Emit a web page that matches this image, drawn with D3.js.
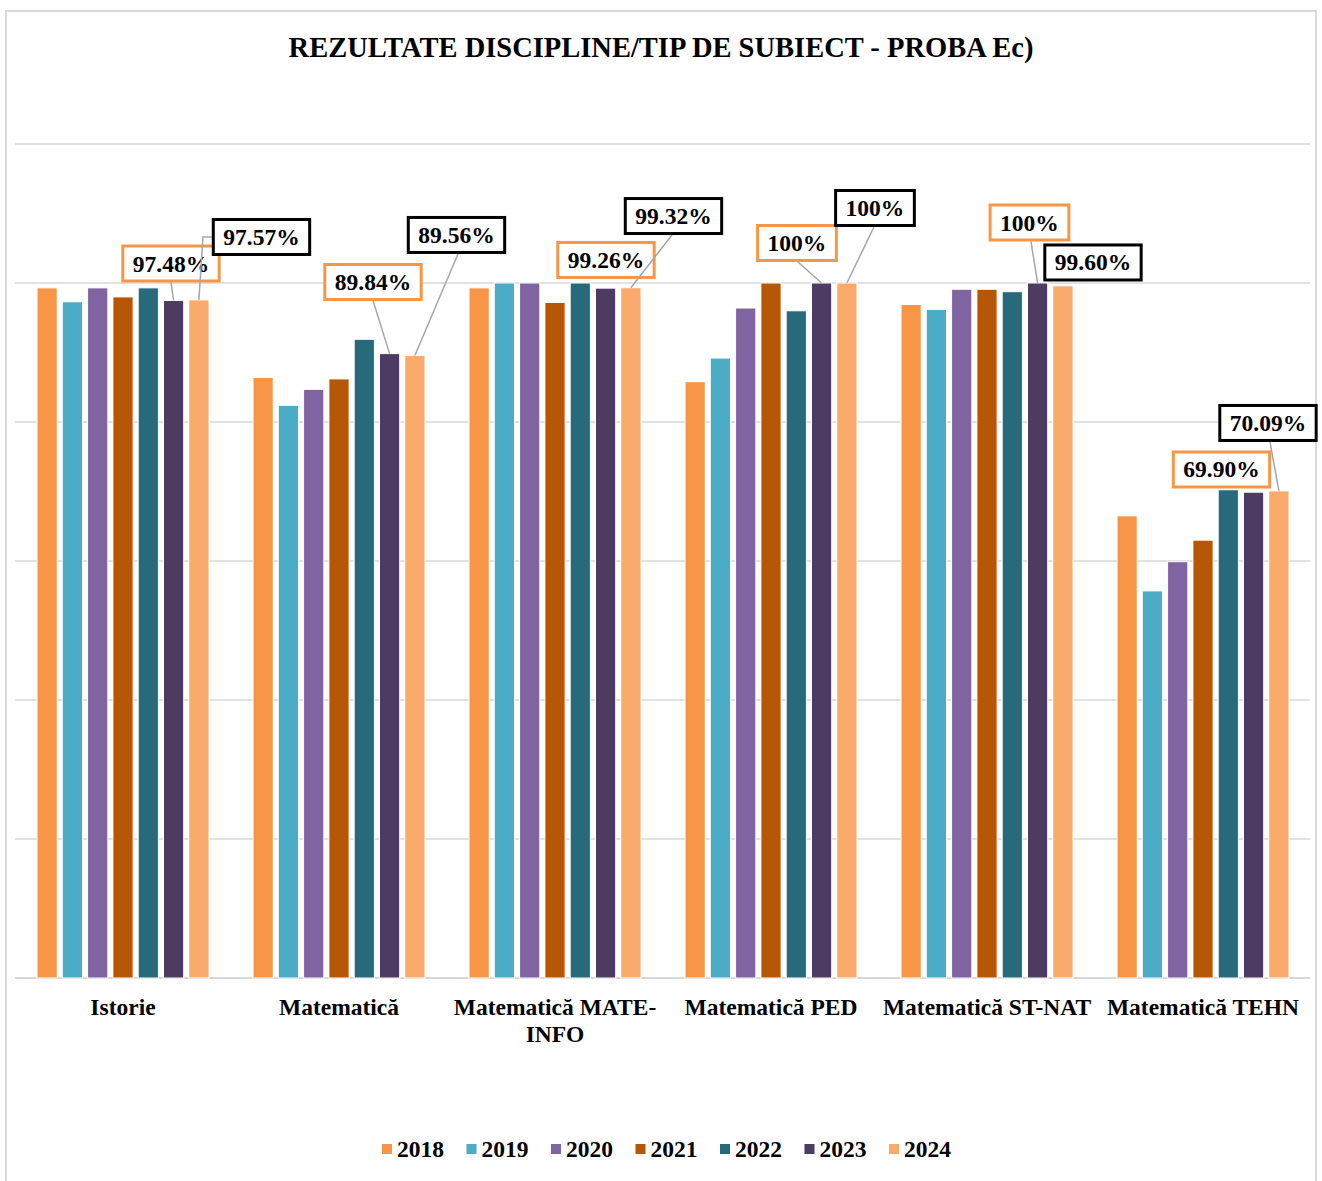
<html>
<head>
<meta charset="utf-8">
<style>
body {
  margin: 0;
  background: white;
}
svg {
  display: block;
}
text {
  font-family: "Liberation Serif", "Times New Roman", serif;
  font-weight: bold;
  fill: black;
}
</style>
</head>
<body>
<script src="https://cdnjs.cloudflare.com/ajax/libs/d3/7.8.5/d3.min.js"></script>
<script>
var categories = ["Istorie", "Matematică", "Matematică MATE-INFO", "Matematică PED", "Matematică ST-NAT", "Matematică TEHN"]
var years = ["2018", "2019", "2020", "2021", "2022", "2023", "2024"]

var v2018 = [99.3, 86.4, 99.3, 85.8, 96.9, 66.5]
var v2019 = [97.3, 82.4, 100, 89.2, 96.2, 55.7]
var v2020 = [99.3, 84.7, 100, 96.4, 99.1, 59.9]
var v2021 = [98.0, 86.2, 97.2, 100, 99.1, 63.0]
var v2022 = [99.3, 91.9, 100, 96.0, 98.75, 70.25]
var v2023 = [97.48, 89.84, 99.26, 100, 100, 69.90]
var v2024 = [97.57, 89.56, 99.32, 100, 99.60, 70.09]

var yTicks = [0, 20, 40, 60, 80, 100, 120]

var series = [v2018, v2019, v2020, v2021, v2022, v2023, v2024]
var colors = ["#F79646", "#4BACC6", "#8064A2", "#B65708", "#276A7C", "#4D3B62", "#F9AB6B"]

// label boxes for 2023 (orange) and 2024 (black): offset of box centre from bar top,
// and leader start (relative to box centre) + optional elbow
var labelLayout = {
  "2023": [
    { dx: -2.6, dy: -37, lead: [[0, 18.5]] },
    { dx: -16.6, dy: -71.6, lead: [[0, 18.5]] },
    { dx: 0.4, dy: -28.2, lead: null },
    { dx: -24.6, dy: -40, lead: [[1, 19]] },
    { dx: -8.1, dy: -60.5, lead: [[1.5, 19]] },
    { dx: -32.1, dy: -22.7, lead: null }
  ],
  "2024": [
    { dx: 62.6, dy: -62.9, lead: [[-48.5, 0], [-58.5, 0]] },
    { dx: 41.6, dy: -120.6, lead: [[1.5, 19]] },
    { dx: 42.6, dy: -71.7, lead: [[-1.5, 19]] },
    { dx: 28.1, dy: -75, lead: [[-1, 19]] },
    { dx: 30.1, dy: -23.3, lead: null },
    { dx: -10.9, dy: -67.9, lead: [[2, 19]] }
  ]
}
var labelBorder = { "2023": "#F79646", "2024": "#000000" }

var width = 1322,
    height = 1181;

var svg = d3.select("body")
  .append("svg")
  .attr("width", width)
  .attr("height", height)

svg.append("rect")
  .attr("x", 6)
  .attr("y", 11)
  .attr("width", 1310)
  .attr("height", 1190)
  .attr("fill", "white")
  .attr("stroke", "#D9D9D9")
  .attr("stroke-width", 2)

svg.append("text")
  .attr("x", 661)
  .attr("y", 57)
  .attr("text-anchor", "middle")
  .style("font-size", "28.5px")
  .text("REZULTATE DISCIPLINE/TIP DE SUBIECT - PROBA Ec)")

var x0 = d3.scaleBand().domain(categories).range([15, 1311])
var x1 = d3.scaleBand().domain(years).range([22, 194]).paddingInner(0.2).paddingOuter(0)
var y = d3.scaleLinear().domain([0, 120]).range([978, 144])

svg.append("g")
  .selectAll("line")
  .data(yTicks)
  .enter().append("line")
  .attr("x1", 15)
  .attr("x2", 1310)
  .attr("y1", function(d) { return y(d) })
  .attr("y2", function(d) { return y(d) })
  .attr("stroke", "#D9D9D9")
  .attr("stroke-width", function(d) { return d === 0 ? 2 : 1.5 })

function barX(ci, yi) {
  return x0(categories[ci]) + x1(years[yi])
}
function barCx(ci, yi) {
  return barX(ci, yi) + x1.bandwidth() / 2
}

var bars = []
series.forEach(function(s, yi) {
  s.forEach(function(v, ci) {
    bars.push({ ci: ci, yi: yi, v: v })
  })
})

svg.append("g")
  .selectAll("rect")
  .data(bars)
  .enter().append("rect")
  .attr("x", function(d) { return barX(d.ci, d.yi) })
  .attr("y", function(d) { return y(d.v) })
  .attr("width", x1.bandwidth())
  .attr("height", function(d) { return y(0) - y(d.v) })
  .attr("fill", function(d) { return colors[d.yi] })
  .attr("stroke", "white")
  .attr("stroke-width", 1)

// category labels, wrapping after spaces and hyphens
var catLabels = svg.append("g")
categories.forEach(function(name) {
  var t = catLabels.append("text")
    .attr("x", x0(name) + x0.bandwidth() / 2)
    .attr("y", 1015)
    .attr("text-anchor", "middle")
    .style("font-size", "23.5px")
  var tokens = name.match(/[^\s-]+-?\s*/g)
  var line = ""
  var tspan = t.append("tspan").attr("x", x0(name) + x0.bandwidth() / 2)
  tokens.forEach(function(tok) {
    var test = line + tok
    tspan.text(test.trim())
    if (tspan.node().getComputedTextLength() > 218 && line !== "") {
      tspan.text(line.trim())
      line = tok
      tspan = t.append("tspan")
        .attr("x", x0(name) + x0.bandwidth() / 2)
        .attr("dy", 27)
        .text(tok.trim())
    } else {
      line = test
    }
  })
})

// data labels
var labels = svg.append("g")
;["2023", "2024"].forEach(function(yr) {
  var yi = years.indexOf(yr)
  series[yi].forEach(function(v, ci) {
    var lay = labelLayout[yr][ci]
    var bx = barCx(ci, yi), by = y(v)
    var cx = bx + lay.dx, cy = by + lay.dy
    var txt = v === 100 ? "100%" : v.toFixed(2) + "%"

    if (lay.lead) {
      var pts = lay.lead.map(function(p) { return [cx + p[0], cy + p[1]] })
      pts.push([bx, by])
      labels.append("path")
        .attr("d", d3.line()(pts))
        .attr("fill", "none")
        .attr("stroke", "#A6A6A6")
        .attr("stroke-width", 1.5)
    }

    var g = labels.append("g")
    var box = g.append("rect")
    var t = g.append("text")
      .attr("x", cx)
      .attr("y", cy + 8)
      .attr("text-anchor", "middle")
      .style("font-size", "23.5px")
      .text(txt)
    var w = t.node().getComputedTextLength() + 20
    box.attr("x", cx - w / 2)
      .attr("y", cy - 17.5)
      .attr("width", w)
      .attr("height", 35)
      .attr("fill", "white")
      .attr("stroke", labelBorder[yr])
      .attr("stroke-width", 3)
  })
})

// legend
var legendStep = 84.5
var legendX = 667 - (legendStep * (years.length - 1) + 63) / 2
var legend = svg.append("g")
  .selectAll("g")
  .data(years)
  .enter().append("g")
  .attr("transform", function(d, i) { return "translate(" + (legendX + i * legendStep) + " 1157)" })

legend.append("rect")
  .attr("x", 0)
  .attr("y", -13)
  .attr("width", 10)
  .attr("height", 10)
  .attr("fill", function(d, i) { return colors[i] })

legend.append("text")
  .attr("x", 15)
  .attr("y", 0)
  .style("font-size", "23.5px")
  .text(function(d) { return d })
</script>
</body>
</html>
